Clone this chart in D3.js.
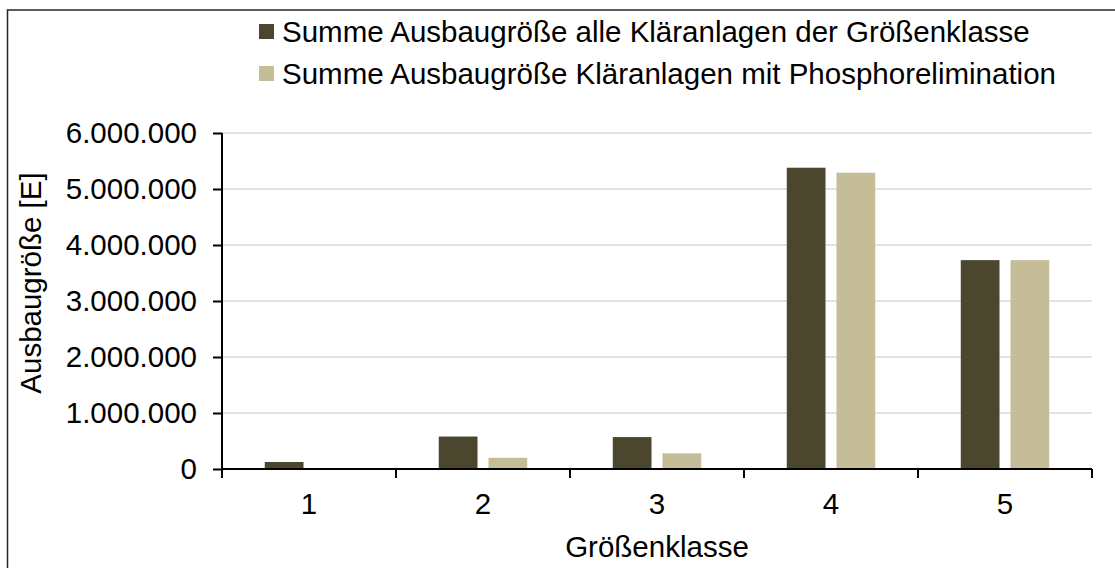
<!DOCTYPE html>
<html>
  <head>
    <meta charset="utf-8" />
    <title>Ausbaugröße nach Größenklasse</title>
    <style>
      body {
        margin: 0;
        background: #fff;
        font-family: "Liberation Sans", Arial, sans-serif;
      }
      .grid line {
        stroke: #d9d9d9;
        stroke-width: 1.5;
      }
      .axis path,
      .axis line {
        stroke: #000;
        stroke-width: 2;
      }
      .axis text {
        font-size: 29.5px;
        fill: #000;
      }
    </style>
    <script src="https://d3js.org/d3.v7.min.js" charset="utf-8"></script>
  </head>
  <body>
    <script>
      const categories = ["1", "2", "3", "4", "5"];
      const seriesNames = [
        "Summe Ausbaugröße alle Kläranlagen der Größenklasse",
        "Summe Ausbaugröße Kläranlagen mit Phosphorelimination",
      ];
      const allePlants = [125000, 580000, 570000, 5380000, 3730000];
      const phosphorPlants = [8000, 200000, 280000, 5290000, 3730000];
      const yTicks = [0, 1000000, 2000000, 3000000, 4000000, 5000000, 6000000];
      const colors = ["#4b472f", "#c5bd97"];

      const width = 1115,
        height = 568;
      const margin = { top: 133, right: 23, bottom: 99, left: 222 };

      const svg = d3
        .select("body")
        .append("svg")
        .attr("width", width)
        .attr("height", height);

      // outer frame, runs off the right and bottom edge
      svg
        .append("rect")
        .attr("x", 7.5)
        .attr("y", 10)
        .attr("width", width + 10)
        .attr("height", height + 10)
        .attr("fill", "none")
        .attr("stroke", "#262626")
        .attr("stroke-width", 1.5);

      const x0 = d3
        .scaleBand()
        .domain(categories)
        .range([margin.left, width - margin.right]);

      const x1 = d3
        .scaleBand()
        .domain([0, 1])
        .range([0, x0.bandwidth()])
        .paddingInner(0.221)
        .paddingOuter(0.86);

      const y = d3
        .scaleLinear()
        .domain([0, 6000000])
        .range([height - margin.bottom, margin.top]);

      const fmt = function (v) {
        return d3.format(",")(v).replace(/,/g, ".");
      };

      // gridlines
      svg
        .append("g")
        .attr("class", "grid")
        .selectAll("line")
        .data(yTicks.slice(1))
        .join("line")
        .attr("x1", margin.left)
        .attr("x2", width - margin.right)
        .attr("y1", function (d) {
          return y(d);
        })
        .attr("y2", function (d) {
          return y(d);
        });

      // bars
      const rows = categories.map(function (c, i) {
        return { cat: c, values: [allePlants[i], phosphorPlants[i]] };
      });

      svg
        .append("g")
        .selectAll("g")
        .data(rows)
        .join("g")
        .attr("transform", function (d) {
          return "translate(" + x0(d.cat) + ",0)";
        })
        .selectAll("rect")
        .data(function (d) {
          return d.values;
        })
        .join("rect")
        .attr("x", function (d, i) {
          return x1(i);
        })
        .attr("width", x1.bandwidth())
        .attr("y", function (d) {
          return y(d);
        })
        .attr("height", function (d) {
          return y(0) - y(d);
        })
        .attr("fill", function (d, i) {
          return colors[i];
        });

      // y axis
      const yAxis = svg
        .append("g")
        .attr("class", "axis")
        .attr("transform", "translate(" + margin.left + ",0)")
        .call(
          d3
            .axisLeft(y)
            .tickValues(yTicks)
            .tickSize(9)
            .tickPadding(16)
            .tickFormat(fmt)
        );
      yAxis.select(".domain").remove();
      yAxis
        .append("line")
        .attr("x1", 0)
        .attr("x2", 0)
        .attr("y1", y(6000000))
        .attr("y2", y(0) + 9);

      // x axis: labels at centres, ticks at band edges
      const xAxis = svg
        .append("g")
        .attr("class", "axis")
        .attr("transform", "translate(0," + y(0) + ")")
        .call(d3.axisBottom(x0).tickSize(0).tickPadding(24));
      xAxis.select(".domain").remove();
      xAxis
        .append("line")
        .attr("x1", margin.left)
        .attr("x2", width - margin.right)
        .attr("y1", 0)
        .attr("y2", 0);
      xAxis
        .selectAll(".edge")
        .data(categories.map(x0).concat([x0.range()[1]]))
        .join("line")
        .attr("class", "edge")
        .attr("x1", function (d) {
          return d;
        })
        .attr("x2", function (d) {
          return d;
        })
        .attr("y1", 0)
        .attr("y2", 9);

      // axis titles
      svg
        .append("text")
        .attr("x", (margin.left + width - margin.right) / 2)
        .attr("y", 557)
        .attr("text-anchor", "middle")
        .style("font-size", "29.5px")
        .text("Größenklasse");

      svg
        .append("text")
        .attr("transform", "translate(41,283) rotate(-90)")
        .attr("text-anchor", "middle")
        .style("font-size", "29.5px")
        .text("Ausbaugröße [E]");

      // legend
      const legend = svg
        .append("g")
        .selectAll("g")
        .data(seriesNames)
        .join("g")
        .attr("transform", function (d, i) {
          return "translate(259," + (41.5 + i * 42) + ")";
        });
      legend
        .append("rect")
        .attr("x", 0)
        .attr("y", -17.5)
        .attr("width", 15)
        .attr("height", 15)
        .attr("fill", function (d, i) {
          return colors[i];
        });
      legend
        .append("text")
        .attr("x", 23)
        .attr("y", 0)
        .style("font-size", "29.5px")
        .text(function (d) {
          return d;
        });
    </script>
  </body>
</html>
